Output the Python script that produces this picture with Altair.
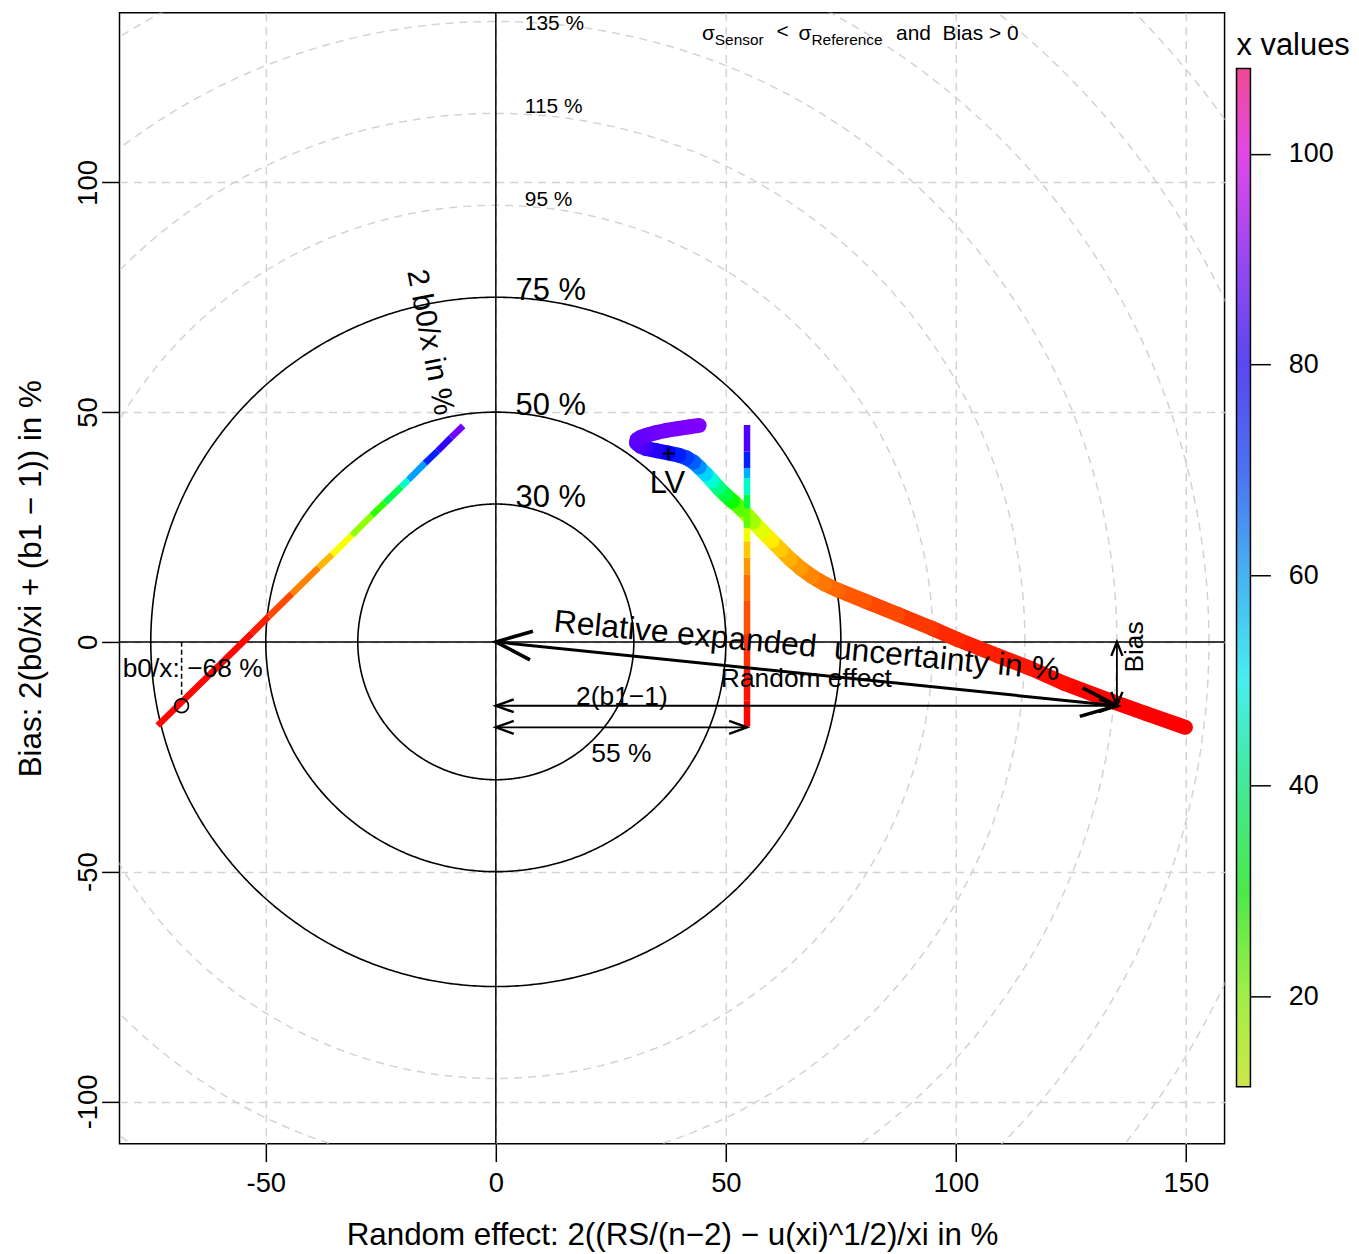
import math
import numpy as np
import pandas as pd
import altair as alt

FONT = "Liberation Sans"

# ---------------- frame ----------------
X_DOMAIN = [-81.8, 158.4]
Y_DOMAIN = [-109.2, 136.9]
PLOT_W, PLOT_H = 1110, 1136
X_TICKS = [-50, 0, 50, 100, 150]
Y_TICKS = [-100, -50, 0, 50, 100]
X_TITLE = "Random effect: 2((RS/(n−2) − u(xi)^1/2)/xi in %"
Y_TITLE = "Bias: 2(b0/xi + (b1 − 1)) in %"

# ---------------- target rings ----------------
SOLID_RADII = [30, 50, 75]
SOLID_LABELS = ["30 %", "50 %", "75 %"]
DASHED_RADII = [95, 115, 135, 155, 175, 195]
DASHED_LABEL_Y = [96.2, 116.4, 134.5]
DASHED_LABELS = ["95 %", "115 %", "135 %"]

# ---------------- LV curve (thick) ----------------
LV_X = [149.9, 141.6, 134.3, 123.5, 116.3, 109.1, 100.4, 94.7, 87.4, 80.2, 74.5, 71.5,
        68.8, 66.3, 64.0, 62.0, 60.0, 58.0, 56.0, 53.5, 51.5, 49.9, 48.4, 47.0, 45.6,
        44.2, 43.0, 41.5, 39.8, 37.5, 35.0, 32.6, 31.4, 30.6, 30.7, 31.5, 32.9, 34.7,
        37.0, 39.5, 42.0, 44.2]
LV_Y = [-18.6, -15.7, -13.1, -9.0, -5.8, -3.0, 0.5, 3.0, 6.0, 8.9, 11.2, 12.6,
        14.2, 16.0, 18.0, 20.0, 22.0, 24.0, 26.1, 28.8, 30.6, 32.0, 33.5, 35.1, 36.6,
        38.0, 39.1, 40.0, 40.6, 41.1, 41.6, 42.1, 42.6, 43.3, 44.0, 44.5, 45.0, 45.5,
        46.0, 46.4, 46.8, 47.1]
LV_XVAL = [0, 0, 0, 0.5, 1.5, 2.2, 3.0, 4.2, 5.6, 7.0, 8.4, 9.5,
           11.0, 12.5, 14.3, 16.3, 19.0, 22.5, 27.0, 33.3, 40.0, 47.2, 53.0, 59.8, 67.0,
           73.6, 79.0, 82.5, 85.0, 88.0, 91.0, 93.0, 95.0, 96.0, 96.5, 97.0, 97.5, 98.0,
           98.7, 99.2, 99.6, 100.0]

# ---------------- vertical line ----------------
VERT_X = [54.6, 54.6, 54.6, 54.6, 54.6, 54.6, 54.6, 54.6, 54.6, 54.6, 54.6, 54.6, 54.6, 54.6, 54.6]
VERT_Y = [-18.4, -12.8, -5.6, 1.7, 8.9, 14.7, 18.3, 21.9, 24.8, 29.1, 32.0, 35.6, 37.8, 41.4, 47.2]
VERT_XVAL = [0, 0.5, 2.8, 5.6, 8.4, 11.1, 15.3, 19.5, 27.7, 44.4, 55.6, 66.7, 80.5, 91.7, 100]

# ---------------- left (b0/x) line ----------------
LEFT_X = [-73.5, -53.0, -49.4, -44.3, -38.5, -35.6, -31.3, -27.0, -24.1, -20.5, -19.0, -15.4, -12.6, -9.7, -7.1]
LEFT_Y = [-18.2, 1.9, 5.5, 10.5, 16.2, 19.0, 23.2, 27.5, 30.3, 33.8, 35.3, 38.9, 41.6, 44.5, 47.0]
LEFT_XVAL = [0, 1, 4.2, 8.4, 14.0, 18.1, 27.7, 36.1, 44.4, 58.5, 66.7, 83.3, 88.9, 97.2, 100]

CURVE_COLOR_DOMAIN = [0, 22.22, 44.44, 66.67, 88.89, 100]
CURVE_COLOR_RANGE = ["#ff0000", "#ffff00", "#00ff00", "#00ffff", "#0000ff", "#8000ff"]

# ---------------- arrows ----------------
ARROW_X0 = [0, 0, 0, 135]
ARROW_Y0 = [0, -13.9, -18.6, 0]
ARROW_X1 = [135, 135, 54.6, 135]
ARROW_Y1 = [-13.9, -13.9, -18.6, -13.9]

# ---------------- annotations ----------------
LV_MARK = (37.5, 41.0)
B0_POINT = (-68.3, -13.9)
B0_DASH = (-68.3, 0.0, -12.1)

# ---------------- colorbar ----------------
CB_RANGE = [11.4, 108.1]
CB_TICKS = [20, 40, 60, 80, 100]
CB_AT = [11.4, 20, 30, 40, 50, 60, 70, 80, 90, 100, 108.1]
CB_COLORS = ["#cde64a", "#a2ee48", "#4ce84a", "#44e896", "#48eef0", "#48b2f0",
             "#4a72f0", "#5a48f0", "#9a48f0", "#e048e8", "#f04a92"]
CB_DOMAIN = [6.0, 113.4]

# =========================================================
xscale = alt.Scale(domain=X_DOMAIN, nice=False, zero=False)
yscale = alt.Scale(domain=Y_DOMAIN, nice=False, zero=False)
common_axis = dict(grid=True, gridDash=[8, 6], gridColor="#d3d3d3", gridWidth=1.5,
                   domain=False, ticks=True, tickSize=18, tickColor="black", tickWidth=1.5,
                   labelColor="black", labelFont=FONT, labelFontSize=27.5,
                   labelExpr="'' + datum.value", labelOverlap=False, labelFlush=False,
                   titleFont=FONT, titleFontSize=31.5, titleFontWeight="normal", titleColor="black")
xaxis = alt.Axis(values=X_TICKS, title=X_TITLE, labelPadding=8, titleY=92,
                 titleBaseline="middle", titleAlign="center", titleX=PLOT_W / 2, **common_axis)
yaxis = alt.Axis(values=Y_TICKS, title=Y_TITLE, labelAngle=270, labelAlign="center",
                 labelBaseline="alphabetic", labelPadding=5, titleX=-88, titleY=PLOT_H / 2,
                 titleAngle=270, titleAlign="center", titleBaseline="middle", **common_axis)


def X(f):
    return alt.X(f, type="quantitative", scale=xscale, axis=xaxis)


def Y(f):
    return alt.Y(f, type="quantitative", scale=yscale, axis=yaxis)


# rings (reference circles of the target diagram)
theta = np.linspace(0, 2 * np.pi, 721)
def ring_df(radii):
    rows = []
    for r in radii:
        for i, t in enumerate(theta):
            rows.append({"r": r, "i": i, "x": r * math.cos(t), "y": r * math.sin(t)})
    return pd.DataFrame(rows)

dashed = alt.Chart(ring_df(DASHED_RADII)).mark_line(
    clip=True, strokeDash=[8, 6], color="#d3d3d3", strokeWidth=1.5
).encode(x=X("x"), y=Y("y"), detail="r:N", order="i:Q")
solid = alt.Chart(ring_df(SOLID_RADII)).mark_line(
    clip=True, color="black", strokeWidth=1.6
).encode(x=X("x"), y=Y("y"), detail="r:N", order="i:Q")

zero = pd.DataFrame({"v": [0.0]})
vline0 = alt.Chart(zero).mark_rule(color="black", strokeWidth=1.5).encode(x=X("v"))
hline0 = alt.Chart(zero).mark_rule(color="black", strokeWidth=1.5).encode(y=Y("v"))

ring_lab_big = alt.Chart(pd.DataFrame({
    "x": [4.3] * len(SOLID_RADII), "y": [r + 1.4 for r in SOLID_RADII], "t": SOLID_LABELS
})).mark_text(align="left", baseline="middle", fontSize=31, font=FONT, color="black"
).encode(x=X("x"), y=Y("y"), text="t:N")
ring_lab_small = alt.Chart(pd.DataFrame({
    "x": [6.3] * len(DASHED_LABEL_Y), "y": DASHED_LABEL_Y, "t": DASHED_LABELS
})).mark_text(align="left", baseline="middle", fontSize=21, font=FONT, color="black", clip=True
).encode(x=X("x"), y=Y("y"), text="t:N")

cscale = alt.Scale(domain=CURVE_COLOR_DOMAIN, range=CURVE_COLOR_RANGE, interpolate="rgb")


def segs(xs, ys, vs):
    return pd.DataFrame({"x": xs[:-1], "y": ys[:-1], "xe": xs[1:], "ye": ys[1:],
                         "v": [(a + b) / 2 for a, b in zip(vs[:-1], vs[1:])]})


def curve(xs, ys, vs, width, cap):
    return alt.Chart(segs(xs, ys, vs)).mark_rule(strokeWidth=width, strokeCap=cap).encode(
        x=X("x"), y=Y("y"), x2=alt.X2("xe"), y2=alt.Y2("ye"),
        color=alt.Color("v:Q", scale=cscale, legend=None))


left_line = curve(LEFT_X, LEFT_Y, LEFT_XVAL, 6.5, "butt")
lv_curve = curve(LV_X, LV_Y, LV_XVAL, 15, "round")
vert_line = curve(VERT_X, VERT_Y, VERT_XVAL, 6.5, "butt")

# b0 marker
b0_dash = alt.Chart(pd.DataFrame({"x": [B0_DASH[0]], "y": [B0_DASH[1]], "ye": [B0_DASH[2]]})).mark_rule(
    color="black", strokeWidth=1.5, strokeDash=[5, 3]).encode(x=X("x"), y=Y("y"), y2=alt.Y2("ye"))
b0_pt = alt.Chart(pd.DataFrame({"x": [B0_POINT[0]], "y": [B0_POINT[1]]})).mark_point(
    shape="circle", size=190, filled=False, strokeWidth=1.6, color="black", opacity=1
).encode(x=X("x"), y=Y("y"))
lv_pt = alt.Chart(pd.DataFrame({"x": [LV_MARK[0]], "y": [LV_MARK[1]]})).mark_point(
    shape="M-1,0L1,0M0,-1L0,1", size=150, filled=False, strokeWidth=2.2, color="black", opacity=1
).encode(x=X("x"), y=Y("y"))

# arrows
KX = PLOT_W / (X_DOMAIN[1] - X_DOMAIN[0])
KY = PLOT_H / (Y_DOMAIN[1] - Y_DOMAIN[0])


def arrow(i, width, head_len, spread):
    x0, y0, x1, y1 = ARROW_X0[i], ARROW_Y0[i], ARROW_X1[i], ARROW_Y1[i]
    shaft = alt.Chart(pd.DataFrame({"x": [x0], "y": [y0], "xe": [x1], "ye": [y1]})).mark_rule(
        color="black", strokeWidth=width).encode(x=X("x"), y=Y("y"), x2=alt.X2("xe"), y2=alt.Y2("ye"))
    a_end = math.degrees(math.atan2(-(y1 - y0) * KY, (x1 - x0) * KX)) % 360
    a_start = (a_end + 180) % 360
    chevron = "M-1,-{s}L0,0L-1,{s}".format(s=spread)
    heads = alt.Chart(pd.DataFrame({"x": [x0, x1], "y": [y0, y1], "a": [a_start, a_end]})).mark_point(
        shape=chevron, size=(2 * head_len) ** 2, filled=False, strokeWidth=width + 0.6,
        color="black", opacity=1, strokeJoin="miter"
    ).encode(x=X("x"), y=Y("y"), angle=alt.Angle("a:Q", scale=None))
    return [shaft, heads]


arrows = (arrow(0, 3, 36, 0.4) + arrow(1, 1.8, 18, 0.36) +
          arrow(2, 1.8, 18, 0.36) + arrow(3, 1.8, 14, 0.4))


def text_layer(xs, ys, ts, size, angle=0, align="center", baseline="middle"):
    return alt.Chart(pd.DataFrame({"x": xs, "y": ys, "t": ts})).mark_text(
        align=align, baseline=baseline, fontSize=size, angle=angle, font=FONT, color="black"
    ).encode(x=X("x"), y=Y("y"), text="t:N")


txt_lv = text_layer([37.3], [34.4], ["LV"], 31)
txt_b0rot = text_layer([-14.3], [65.2], ["2 b0/x in %"], 30, angle=79)
txt_reu = text_layer([67.6], [-0.9], ["Relative expanded\u00a0 uncertainty in %"], 32, angle=5.5)
txt_med = text_layer([67.5, 27.4, 27.3, -65.9], [-8.0, -12.1, -24.3, -5.9],
                     ["Random effect", "2(b1−1)", "55 %", "b0/x: −68 %"], 26.5)
txt_bias = text_layer([139.0], [-1.1], ["Bias"], 26.5, angle=270)
txt_head = text_layer([44.8, 61.0, 65.8, 87.0], [132.3, 132.6, 132.3, 132.3],
                      ["σ", "<", "σ", "and\u00a0 Bias > 0"], 21, align="left")
txt_sub = text_layer([47.6, 68.6], [131.0, 131.0], ["Sensor", "Reference"], 15.5, align="left")

main = alt.layer(
    dashed, solid, vline0, hline0, ring_lab_big, ring_lab_small,
    left_line, lv_curve, vert_line, b0_dash, b0_pt, lv_pt, *arrows,
    txt_lv, txt_b0rot, txt_reu, txt_med, txt_bias, txt_head, txt_sub
).properties(width=PLOT_W, height=PLOT_H,
             view=alt.ViewBackground(stroke="black", strokeWidth=1.5))

# ---------------- colorbar ----------------
cb_df = pd.DataFrame({"x0": [0.0], "x1": [1.0], "y0": [CB_RANGE[0]], "y1": [CB_RANGE[1]]})
stops = [alt.GradientStop(color=c, offset=(v - CB_RANGE[0]) / (CB_RANGE[1] - CB_RANGE[0]))
         for v, c in zip(CB_AT, CB_COLORS)]
grad = alt.LinearGradient(gradient="linear", stops=stops, x1=0, x2=0, y1=1, y2=0)
cb_x = alt.Scale(domain=[0, 1], nice=False, zero=False)
cb_y = alt.Scale(domain=CB_DOMAIN, nice=False, zero=False)
cb_axis = alt.Axis(orient="right", values=CB_TICKS, title=None, grid=False, domain=False,
                   tickSize=20, tickColor="black", tickWidth=1.5, labelPadding=18,
                   labelFontSize=27, labelColor="black", labelFont=FONT,
                   labelExpr="'' + datum.value", labelOverlap=False, labelFlush=False)
bar = alt.Chart(cb_df).mark_rect(fill=grad, stroke="black", strokeWidth=1.5).encode(
    x=alt.X("x0:Q", scale=cb_x, axis=None), x2=alt.X2("x1"),
    y=alt.Y("y0:Q", scale=cb_y, axis=cb_axis), y2=alt.Y2("y1"))
cb_title = alt.Chart(pd.DataFrame({"x": [0.0], "y": [110.2], "t": ["x values"]})).mark_text(
    align="left", baseline="middle", fontSize=31, font=FONT, color="black"
).encode(x=alt.X("x:Q", scale=cb_x, axis=None), y=alt.Y("y:Q", scale=cb_y, axis=cb_axis), text="t:N")
cbar = alt.layer(bar, cb_title).properties(
    width=14, height=PLOT_H, view=alt.ViewBackground(stroke="transparent"))

chart = alt.hconcat(main, cbar, spacing=8).properties(
    padding={"left": 7, "top": 0, "right": 0, "bottom": 0}
).configure(font=FONT)

chart.save("out.html", embed_options={"renderer": "svg", "actions": False})
